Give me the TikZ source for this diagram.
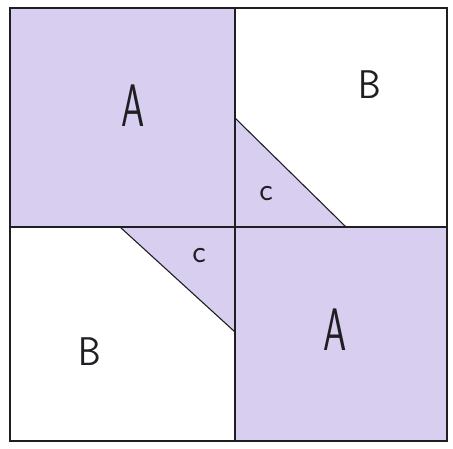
\documentclass[tikz,border=0pt]{standalone}
\usepackage{tikz}
\definecolor{lav}{RGB}{216,206,240}
\definecolor{ink}{RGB}{30,30,35}
\begin{document}
\begin{tikzpicture}[x=1pt,y=-1pt,
  edge/.style={draw=ink,line width=1.8pt},
  mid/.style={draw=ink,line width=1.4pt},
  diag/.style={draw=ink,line width=1.1pt},
  bigA/.style={font=\sffamily\fontsize{60}{60}\selectfont,xscale=0.62,text=ink},
  bigB/.style={font=\sffamily\fontsize{40}{40}\selectfont,xscale=0.9,text=ink},
  smallc/.style={font=\sffamily\fontsize{32}{32}\selectfont,text=ink}]
\useasboundingbox (0,0) rectangle (453,449);
% shaded regions
\fill[lav] (10,8) rectangle (235,227);
\fill[lav] (235,227) rectangle (447,441);
\fill[lav] (235,118) -- (346,227) -- (235,227) -- cycle;
\fill[lav] (120,227) -- (235,227) -- (235,332) -- cycle;
% diagonals
\draw[diag] (235,118) -- (346,227);
\draw[diag] (120,227) -- (235,332);
% mid lines
\draw[mid] (235,8) -- (235,441);
\draw[mid] (10,227) -- (447,227);
% outer border
\draw[edge] (10,8) rectangle (447,441);
% labels
\node[bigA] (a1) at (133,106) {A};
\node[bigB] (b1) at (370,85) {B};
\node[smallc] (c1) at (266,194) {c};
\node[smallc] (c2) at (199,256) {c};
\node[bigB] (b2) at (90,352) {B};
\node[bigA] (a2) at (335,330) {A};
\end{tikzpicture}
\end{document}
